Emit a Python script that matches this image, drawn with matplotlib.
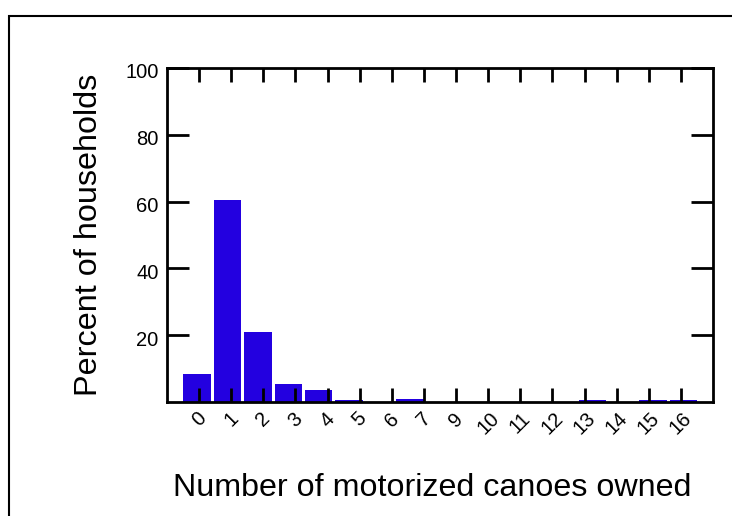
import numpy as np
import matplotlib.pyplot as plt
import matplotlib.transforms as mtransforms
from matplotlib.patches import Rectangle

# percent of households by number of motorized canoes (bar slots 0..16)
canoes = list(range(17))
pct = [8.5, 60.5, 21.0, 5.3, 3.5, 0.7, 0.0, 1.0, 0.0, 0.0, 0.0, 0.0, 0.0, 0.5, 0.0, 0.6, 0.6]
tick_labels = ['0', '1', '2', '3', '4', '5', '6', '7', '9', '10', '11', '12', '13', '14', '15', '16']
y_ticks = [20, 40, 60, 80, 100]

plt.rcParams['font.family'] = ['Liberation Sans', 'DejaVu Sans']

W, H = 732, 516
fig = plt.figure(figsize=(W/100, H/100), dpi=100)
ax = fig.add_axes([167/W, 1-402/H, 546/W, 334/H])

ax.bar(canoes, pct, width=0.9, color='#2300e0')

lo, hi = -0.99, 16.97
ax.set_xlim(lo, hi)
ax.set_ylim(0, 100)

# ticks sit evenly across the axis, not on the bar centres
n = len(tick_labels)
xt = lo + (hi-lo)*np.arange(1, n+1)/(n+1)
ax.set_xticks(xt)
ax.set_xticklabels(tick_labels, rotation=45, ha='center')
ax.tick_params(axis='x', direction='in', length=10, width=2, top=True, labelsize=14.5, pad=5)
ax.set_yticks(y_ticks)
ax.tick_params(axis='y', direction='in', length=16, width=2, right=True, labelsize=14.5, pad=6)
for s in ax.spines.values():
    s.set_linewidth(2)

# y labels sit a little under their ticks
shift = mtransforms.ScaledTranslation(0, -3/100, fig.dpi_scale_trans)
for lab in ax.get_yticklabels():
    lab.set_transform(lab.get_transform() + shift)

fig.text(89/W, 1-235/H, 'Percent of households', rotation=90, fontsize=23.3,
         ha='center', va='center')
fig.text(432/W, 1-488/H, 'Number of motorized canoes owned', fontsize=23.2,
         ha='center', va='center')

fig.patches.append(Rectangle((9/W, -0.05), 1.0, 1-16/H+0.05, transform=fig.transFigure,
                             fill=False, lw=1.5, ec='black'))

fig.savefig('out.png', dpi=100)
